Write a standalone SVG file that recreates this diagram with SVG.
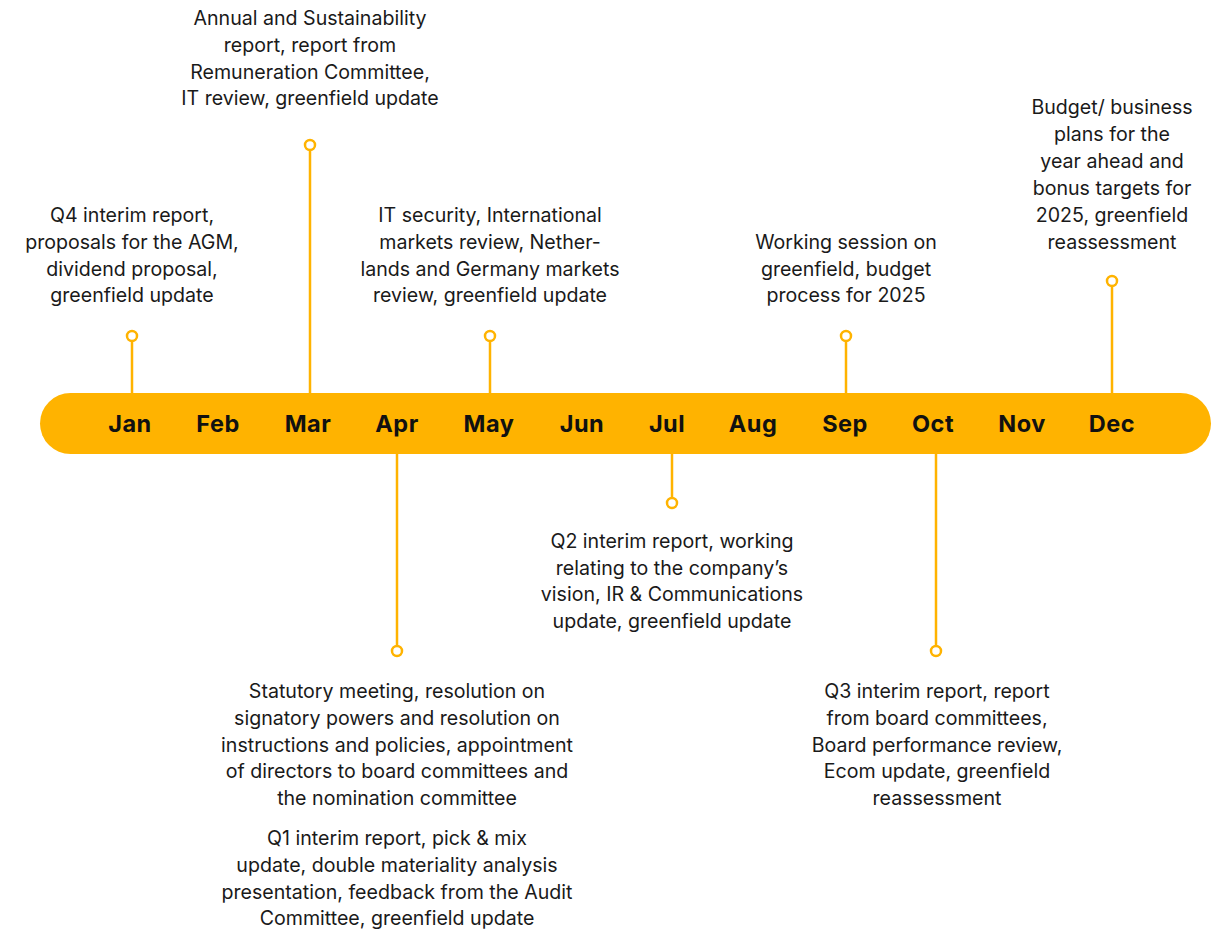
<svg xmlns="http://www.w3.org/2000/svg" width="1229" height="933" viewBox="0 0 1229 933">
  <style>
    .bar { fill: #FFB300; }
    .month { font-family: "Inter", "Liberation Sans", sans-serif; font-weight: 700; font-size: 23.5px; letter-spacing: 0.5px; fill: #111111; text-anchor: middle; }
    .label { font-family: "Inter", "Liberation Sans", sans-serif; font-size: 19.6px; fill: #1a1a1a; text-anchor: middle; letter-spacing: 0; }
    .stem { stroke: #FFB300; stroke-width: 2.5; fill: none; }
    .dot { stroke: #FFB300; stroke-width: 2.5; fill: #ffffff; }
  </style>
  <rect width="1229" height="933" fill="#ffffff"/>

  <!-- timeline bar with month names -->
  <g id="timeline">
    <rect class="bar" x="40" y="393" width="1171" height="61" rx="30.5"/>
    <text class="month" x="130" y="432">Jan</text>
    <text class="month" x="218" y="432">Feb</text>
    <text class="month" x="308" y="432">Mar</text>
    <text class="month" x="397" y="432">Apr</text>
    <text class="month" x="489" y="432">May</text>
    <text class="month" x="582" y="432">Jun</text>
    <text class="month" x="667" y="432">Jul</text>
    <text class="month" x="753" y="432">Aug</text>
    <text class="month" x="845" y="432">Sep</text>
    <text class="month" x="933" y="432">Oct</text>
    <text class="month" x="1022" y="432">Nov</text>
    <text class="month" x="1112" y="432">Dec</text>
  </g>

  <!-- stems from the bar to each event marker -->
  <g id="connectors">
    <line class="stem" x1="132" y1="341" x2="132" y2="393"/>
    <line class="stem" x1="310" y1="150" x2="310" y2="393"/>
    <line class="stem" x1="490" y1="341" x2="490" y2="393"/>
    <line class="stem" x1="846" y1="341" x2="846" y2="393"/>
    <line class="stem" x1="1112" y1="286" x2="1112" y2="393"/>
    <line class="stem" x1="397" y1="454" x2="397" y2="646"/>
    <line class="stem" x1="672" y1="454" x2="672" y2="498"/>
    <line class="stem" x1="936" y1="454" x2="936" y2="646"/>
    <circle class="dot" cx="132" cy="336" r="5"/>
    <circle class="dot" cx="310" cy="145" r="5"/>
    <circle class="dot" cx="490" cy="336" r="5"/>
    <circle class="dot" cx="846" cy="336" r="5"/>
    <circle class="dot" cx="1112" cy="281" r="5"/>
    <circle class="dot" cx="397" cy="651" r="5"/>
    <circle class="dot" cx="672" cy="503" r="5"/>
    <circle class="dot" cx="936" cy="651" r="5"/>
  </g>

  <g id="event-jan">
    <text class="label" x="132" y="222">Q4 interim report,</text>
    <text class="label" x="132" y="249">proposals for the AGM,</text>
    <text class="label" x="132" y="276">dividend proposal,</text>
    <text class="label" x="132" y="302">greenfield update</text>
  </g>

  <g id="event-mar">
    <text class="label" x="310" y="25">Annual and Sustainability</text>
    <text class="label" x="310" y="52">report, report from</text>
    <text class="label" x="310" y="79">Remuneration Committee,</text>
    <text class="label" x="310" y="105">IT review, greenfield update</text>
  </g>

  <g id="event-may">
    <text class="label" x="490" y="222">IT security, International</text>
    <text class="label" x="490" y="249">markets review, Nether-</text>
    <text class="label" x="490" y="276">lands and Germany markets</text>
    <text class="label" x="490" y="302">review, greenfield update</text>
  </g>

  <g id="event-sep">
    <text class="label" x="846" y="249">Working session on</text>
    <text class="label" x="846" y="276">greenfield, budget</text>
    <text class="label" x="846" y="302">process for 2025</text>
  </g>

  <g id="event-dec">
    <text class="label" x="1112" y="114">Budget/ business</text>
    <text class="label" x="1112" y="141">plans for the</text>
    <text class="label" x="1112" y="168">year ahead and</text>
    <text class="label" x="1112" y="195">bonus targets for</text>
    <text class="label" x="1112" y="222">2025, greenfield</text>
    <text class="label" x="1112" y="249">reassessment</text>
  </g>

  <g id="event-jul">
    <text class="label" x="672" y="548">Q2 interim report, working</text>
    <text class="label" x="672" y="575">relating to the company’s</text>
    <text class="label" x="672" y="601">vision, IR &amp; Communications</text>
    <text class="label" x="672" y="628">update, greenfield update</text>
  </g>

  <g id="event-apr">
    <text class="label" x="397" y="698">Statutory meeting, resolution on</text>
    <text class="label" x="397" y="725">signatory powers and resolution on</text>
    <text class="label" x="397" y="752">instructions and policies, appointment</text>
    <text class="label" x="397" y="778">of directors to board committees and</text>
    <text class="label" x="397" y="805">the nomination committee</text>
    <text class="label" x="397" y="845">Q1 interim report, pick &amp; mix</text>
    <text class="label" x="397" y="872">update, double materiality analysis</text>
    <text class="label" x="397" y="899">presentation, feedback from the Audit</text>
    <text class="label" x="397" y="925">Committee, greenfield update</text>
  </g>

  <g id="event-oct">
    <text class="label" x="937" y="698">Q3 interim report, report</text>
    <text class="label" x="937" y="725">from board committees,</text>
    <text class="label" x="937" y="752">Board performance review,</text>
    <text class="label" x="937" y="778">Ecom update, greenfield</text>
    <text class="label" x="937" y="805">reassessment</text>
  </g>
</svg>
